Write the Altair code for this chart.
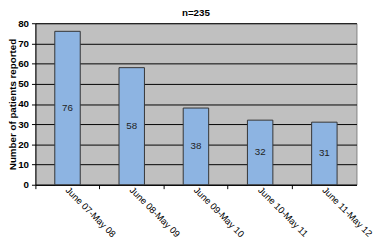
import altair as alt
import pandas as pd

periods = ["June 07-May 08", "June 08-May 09", "June 09-May 10", "June 10-May 11", "June 11-May 12"]
counts = [76, 58, 38, 32, 31]
y_ticks = [0, 10, 20, 30, 40, 50, 60, 70, 80]

df = pd.DataFrame({"period": periods, "count": counts})

FONT = "Liberation Sans"
xscale = alt.Scale(paddingInner=0, paddingOuter=0)
yscale = alt.Scale(domain=[0, 80], nice=False)

yaxis = alt.Axis(values=y_ticks, grid=True, gridColor="black", gridWidth=1,
                 domain=True, domainColor="black", tickColor="black", tickSize=4,
                 labelFont=FONT, labelFontSize=10, labelFontWeight="bold",
                 labelColor="black", labelPadding=3,
                 title="Number of patients reported", titleFont=FONT,
                 titleFontSize=10, titleFontWeight="bold", titleColor="black",
                 titlePadding=0)

base = alt.Chart(df)

bars = base.mark_bar(size=26, fill="#8DB4E2", stroke="#333333", strokeWidth=1).encode(
    x=alt.X("period:N", sort=periods, scale=xscale,
            axis=alt.Axis(orient="bottom", bandPosition=0, labels=False, ticks=True,
                          tickSize=4, tickColor="black", domain=True, domainColor="black",
                          grid=False, title=None)),
    y=alt.Y("count:Q", scale=yscale, axis=yaxis),
)

labels = base.transform_calculate(mid="datum.count / 2").mark_text(
    font=FONT, fontSize=10, color="#222222"
).encode(
    x=alt.X("period:N", sort=periods, scale=xscale,
            axis=alt.Axis(orient="bottom", bandPosition=0.5, labelAngle=45, labelAlign="left",
                          labelBaseline="top", labelPadding=0, labelOffset=3,
                          ticks=False, domain=False,
                          grid=False, labelFont=FONT, labelFontSize=9.5,
                          labelColor="black", title=None)),
    y=alt.Y("mid:Q", scale=yscale, axis=yaxis),
    text=alt.Text("count:Q"),
)

chart = alt.layer(bars, labels).resolve_axis(x="independent").properties(
    width=328,
    height=165,
    background="white",
    title=alt.TitleParams("n=235", font=FONT, fontSize=10, fontWeight="bold",
                          color="black", offset=0),
    autosize=alt.AutoSizeParams(type="none"),
    padding={"left": 28, "top": 13, "right": 22, "bottom": 60},
).configure_view(
    fill="#C0C0C0", stroke="#808080", strokeWidth=1
)

chart.save("out.html", embed_options={"renderer": "svg", "actions": False})
